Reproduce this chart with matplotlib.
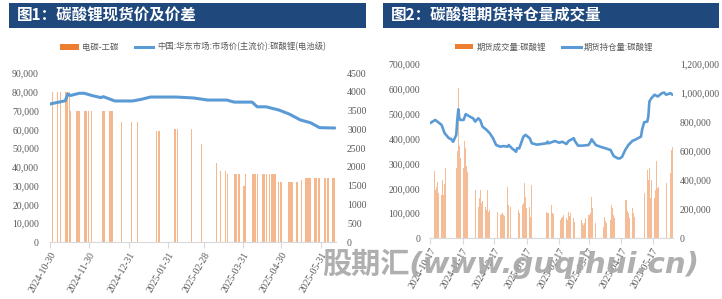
import numpy as np
import pandas as pd
import matplotlib
matplotlib.use("Agg")
import matplotlib.pyplot as plt
import matplotlib.dates as mdates
from matplotlib.ticker import FuncFormatter, MultipleLocator
from matplotlib.patches import Rectangle, Patch
from matplotlib.lines import Line2D

plt.rcParams['font.family'] = ['Noto Sans CJK SC', 'DejaVu Sans']

# ==============================
# Chart 1: spot price and spread
# ==============================
price_dates = ['2024-10-30', '2024-11-11', '2024-11-13', '2024-11-15', '2024-11-22', '2024-11-26',
               '2024-12-02', '2024-12-09', '2024-12-11', '2024-12-20', '2025-01-03', '2025-01-10',
               '2025-01-17', '2025-02-06', '2025-02-20', '2025-03-03', '2025-03-18', '2025-03-24',
               '2025-04-07', '2025-04-11', '2025-04-18', '2025-04-28', '2025-05-06', '2025-05-15',
               '2025-05-23', '2025-05-30', '2025-06-11']
price_values = [73500, 75200, 78800, 78000, 79200, 79200,
                78000, 76900, 77400, 75100, 75100, 76000,
                77200, 77200, 76700, 75600, 75600, 74500,
                74500, 72000, 72000, 70300, 68200, 65000,
                63500, 60900, 60700]

spread_dates = ['2024-11-01', '2024-11-05', '2024-11-07', '2024-11-11', '2024-11-12', '2024-11-13',
                '2024-11-14', '2024-11-15', '2024-11-20', '2024-11-21', '2024-11-22', '2024-11-26',
                '2024-11-27', '2024-11-28', '2024-11-29', '2024-12-02', '2024-12-10', '2024-12-11',
                '2024-12-12', '2024-12-16', '2024-12-17', '2024-12-18', '2024-12-25', '2025-01-02',
                '2025-01-07', '2025-01-22', '2025-01-23', '2025-01-24', '2025-02-05', '2025-02-06',
                '2025-02-07', '2025-02-18', '2025-02-26', '2025-03-10', '2025-03-13', '2025-03-17',
                '2025-03-19', '2025-03-24', '2025-03-25', '2025-03-26', '2025-03-27', '2025-03-28',
                '2025-03-31', '2025-04-01', '2025-04-02', '2025-04-07', '2025-04-08', '2025-04-09',
                '2025-04-10', '2025-04-11', '2025-04-15', '2025-04-16', '2025-04-17', '2025-04-18',
                '2025-04-21', '2025-04-22', '2025-04-23', '2025-04-24', '2025-04-25', '2025-04-28',
                '2025-04-29', '2025-04-30', '2025-05-06', '2025-05-07', '2025-05-08', '2025-05-09',
                '2025-05-12', '2025-05-13', '2025-05-16', '2025-05-19', '2025-05-20', '2025-05-21',
                '2025-05-22', '2025-05-23', '2025-05-26', '2025-05-27', '2025-05-28', '2025-05-29',
                '2025-05-30', '2025-06-03', '2025-06-04', '2025-06-05', '2025-06-06', '2025-06-09',
                '2025-06-10', '2025-06-11']
spread_values = [4000, 4000, 4000, 4000, 4000, 4000,
                 4000, 3500, 3500, 3500, 3500, 3500,
                 3500, 3500, 3500, 3500, 3500, 3500,
                 3500, 3500, 3500, 3500, 3200, 3200,
                 3200, 2950, 2950, 2950, 3000, 3000,
                 3000, 3000, 2600, 2100, 1900, 1900,
                 1800, 1800, 1800, 1800, 1800, 1800,
                 1500, 1500, 1800, 1800, 1800, 1800,
                 1800, 1800, 1800, 1800, 1800, 1800,
                 1800, 1800, 1800, 1800, 1800, 1600,
                 1600, 1600, 1600, 1600, 1600, 1600,
                 1600, 1600, 1650, 1700, 1700, 1700,
                 1700, 1700, 1700, 1700, 1700, 1700,
                 1700, 1700, 1700, 1700, 1700, 1700,
                 1700, 1700]

ticks1 = ['2024-10-30', '2024-11-30', '2024-12-31', '2025-01-31',
          '2025-02-28', '2025-03-31', '2025-04-30', '2025-05-31']

# ==============================
# Chart 2: futures volume and open interest
# ==============================
holidays = ['2025-01-01', '2025-01-28', '2025-01-29', '2025-01-30', '2025-01-31', '2025-02-03',
            '2025-02-04', '2025-04-04', '2025-05-01', '2025-05-02', '2025-05-05', '2025-06-02']
vol_dates = pd.bdate_range('2024-10-17', '2025-06-05', freq='C', holidays=holidays)
vol_values = np.array([
    186, 274, 270, 193, 207, 227, 181, 173, 234, 173, 218,
    281, 173, 207, 220, 213, 207, 281, 348, 605, 370, 321, 281, 389, 362, 288, 267, 234, 213, 207, 200, 193,
    126, 160, 193, 140, 150, 126, 113, 193, 106, 113, 120, 126, 126, 110, 106, 92, 95, 99, 92, 90, 207, 133,
    126, 140, 126, 213, 180, 113, 99, 133, 140, 220, 166, 120, 126, 86, 213, 100, 86, 92,
    106, 100, 99, 132, 99, 95, 86, 90, 79, 72, 80, 86, 92, 80, 72, 106, 90, 99,
    79, 65, 59, 99, 113, 72, 59, 52, 60, 79, 92, 92, 100, 166, 120, 59, 72, 86, 80, 72, 45,
    86, 70, 59, 72, 132, 120, 92, 80, 72, 66, 45, 60, 86, 153, 153, 110, 99, 80, 120, 99, 86,
    220, 150, 213, 180, 274, 234, 281, 159, 234, 159, 193, 308, 200, 207, 234, 315, 321, 348, 220,
    260, 355, 368]) * 1000

oi_dates = ['2024-10-17', '2024-10-22', '2024-10-28', '2024-10-31', '2024-11-04', '2024-11-06',
            '2024-11-08', '2024-11-11', '2024-11-12', '2024-11-13', '2024-11-14', '2024-11-15',
            '2024-11-18', '2024-11-20', '2024-11-25', '2024-11-27', '2024-11-29', '2024-12-02',
            '2024-12-04', '2024-12-06', '2024-12-10', '2024-12-13', '2024-12-16', '2024-12-19',
            '2024-12-23', '2024-12-26', '2024-12-30', '2024-12-31', '2025-01-03', '2025-01-07',
            '2025-01-08', '2025-01-10', '2025-01-14', '2025-01-16', '2025-01-20', '2025-01-22',
            '2025-01-27', '2025-02-05', '2025-02-06', '2025-02-07', '2025-02-13', '2025-02-17',
            '2025-02-20', '2025-02-24', '2025-02-26', '2025-03-03', '2025-03-04', '2025-03-07',
            '2025-03-11', '2025-03-17', '2025-03-19', '2025-03-20', '2025-03-24', '2025-03-28',
            '2025-04-02', '2025-04-07', '2025-04-10', '2025-04-14', '2025-04-16', '2025-04-18',
            '2025-04-21', '2025-04-24', '2025-04-28', '2025-04-30', '2025-05-06', '2025-05-07',
            '2025-05-09', '2025-05-12', '2025-05-13', '2025-05-14', '2025-05-16', '2025-05-19',
            '2025-05-22', '2025-05-26', '2025-05-28', '2025-05-30', '2025-06-03', '2025-06-05']
oi_values = np.array([
    792, 814, 780, 722, 688, 683, 664, 711, 814, 888,
    819, 814, 814, 854, 833, 826, 803, 826, 810, 768,
    745, 722, 688, 641, 630, 634, 630, 641, 619, 595,
    619, 618, 699, 711, 688, 653, 644, 653, 664, 653,
    669, 657, 664, 648, 669, 688, 669, 637, 637, 641,
    664, 681, 641, 630, 619, 607, 565, 549, 549, 560,
    607, 641, 671, 676, 699, 745, 798, 803, 837, 941,
    965, 988, 976, 999, 1003, 988, 999, 988]) * 1000

ticks2 = ['2024-10-17', '2024-11-17', '2024-12-17', '2025-01-17',
          '2025-02-17', '2025-03-17', '2025-04-17', '2025-05-17']

# ==============================
# Styling
# ==============================
BLUE = '#5B9BD5'
ORANGE = '#ED7D31'
GREY = '#595959'
AXIS = '#D9D9D9'
HEADER = '#1F497D'
TICKFONT = 'Liberation Serif'

W, H = 722, 299
fig = plt.figure(figsize=(W / 100, H / 100), dpi=100)


def px_box(x0, y0, x1, y1):
    return [x0 / W, 1 - y1 / H, (x1 - x0) / W, (y1 - y0) / H]


comma = FuncFormatter(lambda v, p: f'{v:,.0f}')


def style_axes(ax, axr, tickdates, pad_l, pad_r):
    for a in (ax, axr):
        for s in ('top', 'left', 'right'):
            a.spines[s].set_visible(False)
        a.spines['bottom'].set_visible(False)
        a.tick_params(axis='y', length=0, labelcolor=GREY, labelsize=7)
        for lab in a.get_yticklabels():
            lab.set_fontfamily(TICKFONT)
    ax.spines['bottom'].set_visible(True)
    ax.spines['bottom'].set_color(AXIS)
    ax.tick_params(axis='y', pad=pad_l)
    axr.tick_params(axis='y', pad=pad_r)
    ax.set_xticks(pd.to_datetime(tickdates))
    ax.xaxis.set_major_formatter(mdates.DateFormatter('%Y-%m-%d'))
    ax.tick_params(axis='x', length=4, color=AXIS, labelcolor=GREY, labelsize=7, pad=2)
    for lab in ax.get_xticklabels():
        lab.set_rotation(60)
        lab.set_ha('right')
        lab.set_va('top')
        lab.set_rotation_mode('anchor')
        lab.set_fontfamily(TICKFONT)


# ---- chart 1
ax1 = fig.add_axes(px_box(50, 73, 336, 242))
ax1r = ax1.twinx()
ax1r.bar(pd.to_datetime(spread_dates), spread_values, width=0.85, color=ORANGE, alpha=0.55, linewidth=0)
ax1.plot(pd.to_datetime(price_dates), price_values, color=BLUE, lw=2.2, solid_capstyle='round')
ax1.set_zorder(ax1r.get_zorder() + 1)
ax1.patch.set_visible(False)
ax1.set_ylim(0, 90000)
ax1.yaxis.set_major_locator(MultipleLocator(10000))
ax1.yaxis.set_major_formatter(comma)
ax1r.set_ylim(0, 4500)
ax1r.yaxis.set_major_locator(MultipleLocator(500))
ax1.set_xlim(pd.Timestamp('2024-10-30'), pd.Timestamp('2025-06-12'))
style_axes(ax1, ax1r, ticks1, 8, 8)

# ---- chart 2
ax2 = fig.add_axes(px_box(430, 64, 673, 238))
ax2r = ax2.twinx()
ax2.bar(vol_dates[:len(vol_values)], vol_values[:len(vol_dates)], width=0.7, color=ORANGE, alpha=0.5, linewidth=0)
ax2r.plot(pd.to_datetime(oi_dates), oi_values, color=BLUE, lw=1.9, solid_capstyle='round')
ax2.set_ylim(0, 700000)
ax2.yaxis.set_major_locator(MultipleLocator(100000))
ax2.yaxis.set_major_formatter(comma)
ax2r.set_ylim(0, 1200000)
ax2r.yaxis.set_major_locator(MultipleLocator(200000))
ax2r.yaxis.set_major_formatter(comma)
ax2.set_xlim(pd.Timestamp('2024-10-17'), pd.Timestamp('2025-06-05 12:00'))
style_axes(ax2, ax2r, ticks2, 7, 5)

# ---- header bars
fig.patches.append(Rectangle((9 / W, 1 - 28 / H), 357 / W, 25 / H, transform=fig.transFigure,
                             facecolor=HEADER, edgecolor='none', zorder=0))
fig.patches.append(Rectangle((383 / W, 1 - 28 / H), 336 / W, 25 / H, transform=fig.transFigure,
                             facecolor=HEADER, edgecolor='none', zorder=0))
fig.text(17 / W, 1 - 15.5 / H, '图1：碳酸锂现货价及价差', color='white', fontsize=11.2,
         fontweight='bold', va='center', ha='left')
fig.text(391 / W, 1 - 15.5 / H, '图2：碳酸锂期货持仓量成交量', color='white', fontsize=11.2,
         fontweight='bold', va='center', ha='left')

# ---- legends
h1 = [Patch(facecolor=ORANGE, edgecolor='none'), Line2D([], [], color=BLUE, lw=2.2)]
fig.legend(h1, ['电碳-工碳', '中国:华东市场:市场价(主流价):碳酸锂(电池级)'], loc='center',
           bbox_to_anchor=(193 / W, 1 - 47 / H), ncol=2, frameon=False, fontsize=6,
           labelcolor=GREY, handlelength=2.2, handletextpad=0.4, columnspacing=2.0)
h2 = [Patch(facecolor=ORANGE, edgecolor='none'), Line2D([], [], color=BLUE, lw=2.2)]
fig.legend(h2, ['期货成交量:碳酸锂', '期货持仓量:碳酸锂'], loc='center',
           bbox_to_anchor=(554 / W, 1 - 47 / H), ncol=2, frameon=False, fontsize=6,
           labelcolor=GREY, handlelength=2.2, handletextpad=0.4, columnspacing=2.0)

# ---- watermark
fig.text(322 / W, 1 - 264 / H, '股期汇(www.guqihui.cn)', fontsize=21, color='#A6A6A6',
         fontweight='bold', style='italic', va='center', ha='left', alpha=0.9,
         family=['DejaVu Sans', 'Noto Sans CJK SC'], zorder=10)

fig.savefig('out.png', dpi=100)
